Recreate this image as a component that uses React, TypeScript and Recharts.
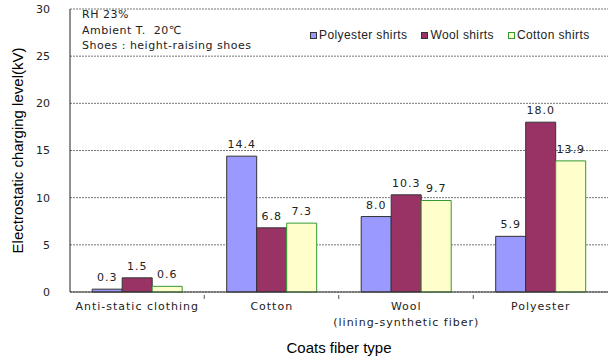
import { BarChart, Bar, XAxis, YAxis, CartesianGrid, LabelList } from "recharts";

const categories = ["Anti-static clothing", "Cotton", "Wool\n(lining-synthetic fiber)", "Polyester"];
const polyesterShirts = [0.3, 14.4, 8.0, 5.9];
const woolShirts = [1.5, 6.8, 10.3, 18.0];
const cottonShirts = [0.6, 7.3, 9.7, 13.9];
const yTicks = [0, 5, 10, 15, 20, 25, 30];
const notes = ["RH 23%", "Ambient T.  20\u2103", "Shoes : height-raising shoes"];

const series = [
  { key: "poly", label: "Polyester shirts", fill: "#9999ff", stroke: "#333333" },
  { key: "wool", label: "Wool shirts", fill: "#993366", stroke: "#333333" },
  { key: "cotton", label: "Cotton shirts", fill: "#ffffcc", stroke: "#339933" },
];

const data = categories.map((name, i) => ({
  name,
  poly: polyesterShirts[i],
  wool: woolShirts[i],
  cotton: cottonShirts[i],
}));

const tickFont = "'DejaVu Sans', sans-serif";
const labelFont = "'Liberation Sans', Arial, sans-serif";

const XTick = (props: any) => {
  const { x, y, payload, index } = props;
  const lines = String(payload.value).split("\n");
  return (
    <g>
      {index < categories.length - 1 && (
        <line x1={x + 67} x2={x + 67} y1={y - 5} y2={y - 1} stroke="#555" />
      )}
      {lines.map((l, i) => (
        <text
          key={i}
          x={x}
          y={y + 10 + i * 16}
          textAnchor="middle"
          fontSize={11}
          letterSpacing={1}
          fontFamily={tickFont}
          fill="#222"
        >
          {l}
        </text>
      ))}
    </g>
  );
};

const fmt = (v: any) => Number(v).toFixed(1);

export default function App() {
  return (
    <div style={{ position: "absolute", left: 0, top: 0, width: 612, height: 361, background: "#fff" }}>
      <BarChart
        width={612}
        height={361}
        data={data}
        margin={{ top: 9, right: 4, bottom: 0, left: 20 }}
        barGap={0}
        barCategoryGap="16.5%"
      >
        <CartesianGrid vertical={false} stroke="#777" strokeDasharray="2 1" />
        <XAxis
          dataKey="name"
          height={69}
          axisLine={{ stroke: "#333" }}
          tickLine={false}
          interval={0}
          tick={<XTick />}
          label={{
            value: "Coats fiber type",
            position: "insideBottom",
            offset: 8,
            fontSize: 15,
            fill: "#000",
            fontFamily: labelFont,
          }}
        />
        <XAxis xAxisId="top" orientation="top" dataKey="name" height={0} tick={false} tickLine={false} axisLine={{ stroke: "#999" }} />
        <YAxis
          domain={[0, 30]}
          ticks={yTicks}
          width={50}
          axisLine={{ stroke: "#222" }}
          tickLine={false}
          tick={{ fontSize: 11, fill: "#222", fontFamily: tickFont }}
          tickMargin={14}
          label={{
            value: "Electrostatic charging level(kV)",
            angle: -90,
            position: "insideLeft",
            offset: 0,
            dx: -2,
            dy: 0,
            fontSize: 15,
            fill: "#000",
            fontFamily: labelFont,
            style: { textAnchor: "middle" },
          }}
        />
        <YAxis yAxisId="right" orientation="right" domain={[0, 30]} width={0} tick={false} tickLine={false} axisLine={{ stroke: "#999" }} />
        {series.map((s) => (
          <Bar key={s.key} dataKey={s.key} name={s.label} fill={s.fill} stroke={s.stroke} strokeWidth={1} isAnimationActive={false}>
            <LabelList
              dataKey={s.key}
              position="top"
              offset={8}
              formatter={fmt}
              fontSize={11}
              letterSpacing={1}
              fontFamily={tickFont}
              fill="#222"
            />
          </Bar>
        ))}
      </BarChart>
      <div
        style={{
          position: "absolute",
          left: 82,
          top: 7,
          fontSize: 11,
          lineHeight: "15.5px",
          letterSpacing: 0.5,
          whiteSpace: "pre",
          fontFamily: tickFont,
          color: "#222",
        }}
      >
        {notes.map((n) => (
          <div key={n}>{n}</div>
        ))}
      </div>
      <div
        style={{
          position: "absolute",
          left: 310,
          top: 28,
          display: "flex",
          gap: 14,
          fontSize: 12,
          letterSpacing: 0.4,
          fontFamily: labelFont,
          color: "#222",
          whiteSpace: "nowrap",
        }}
      >
        {series.map((s) => (
          <div key={s.key} style={{ display: "flex", alignItems: "center" }}>
            <span
              style={{
                display: "inline-block",
                width: 5,
                height: 5,
                background: s.fill,
                border: `1px solid ${s.stroke}`,
                marginRight: 2,
              }}
            />
            {s.label}
          </div>
        ))}
      </div>
    </div>
  );
}
